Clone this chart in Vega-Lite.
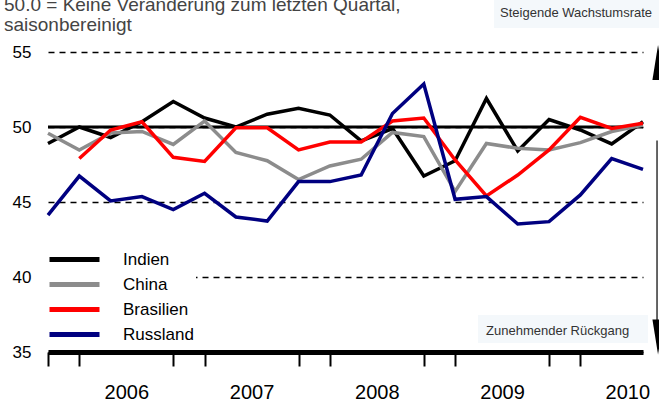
{
  "$schema": "https://vega.github.io/schema/vega-lite/v6.json",
  "width": 595,
  "height": 300,
  "autosize": {"type": "none"},
  "padding": {"left": 48, "top": 52, "right": 16, "bottom": 51},
  "background": "white",
  "title": {
    "text": ["50.0 = Keine Veränderung zum letzten Quartal,", "saisonbereinigt"],
    "anchor": "start",
    "frame": "group",
    "orient": "top",
    "font": "Liberation Sans",
    "fontSize": 19,
    "fontWeight": "normal",
    "color": "#444444",
    "lineHeight": 19.5,
    "offset": 0,
    "dx": -44,
    "dy": 54,
    "baseline": "bottom"
  },
  "config": {"view": {"stroke": null}, "font": "Liberation Sans"},
  "layer": [
    {
      "data": {"values": [{}]},
      "mark": {"type": "rule", "color": "black", "strokeWidth": 3},
      "encoding": {
        "y": {"datum": 50, "type": "quantitative", "scale": {"domain": [35, 55], "nice": false, "zero": false}}
      }
    },
    {
      "data": {
        "values": [
          {"t": 2005.875, "land": "Indien", "v": 48.9},
          {"t": 2006.125, "land": "Indien", "v": 50.0},
          {"t": 2006.375, "land": "Indien", "v": 49.3},
          {"t": 2006.625, "land": "Indien", "v": 50.35},
          {"t": 2006.875, "land": "Indien", "v": 51.7},
          {"t": 2007.125, "land": "Indien", "v": 50.6},
          {"t": 2007.375, "land": "Indien", "v": 50.0},
          {"t": 2007.625, "land": "Indien", "v": 50.85},
          {"t": 2007.875, "land": "Indien", "v": 51.25},
          {"t": 2008.125, "land": "Indien", "v": 50.8},
          {"t": 2008.375, "land": "Indien", "v": 49.07},
          {"t": 2008.625, "land": "Indien", "v": 49.9},
          {"t": 2008.875, "land": "Indien", "v": 46.73},
          {"t": 2009.125, "land": "Indien", "v": 47.75},
          {"t": 2009.375, "land": "Indien", "v": 51.9},
          {"t": 2009.625, "land": "Indien", "v": 48.4},
          {"t": 2009.875, "land": "Indien", "v": 50.5},
          {"t": 2010.125, "land": "Indien", "v": 49.8},
          {"t": 2010.375, "land": "Indien", "v": 48.87},
          {"t": 2010.625, "land": "Indien", "v": 50.35},
          {"t": 2005.875, "land": "China", "v": 49.58},
          {"t": 2006.125, "land": "China", "v": 48.47},
          {"t": 2006.375, "land": "China", "v": 49.6},
          {"t": 2006.625, "land": "China", "v": 49.7},
          {"t": 2006.875, "land": "China", "v": 48.84},
          {"t": 2007.125, "land": "China", "v": 50.4},
          {"t": 2007.375, "land": "China", "v": 48.3},
          {"t": 2007.625, "land": "China", "v": 47.75},
          {"t": 2007.875, "land": "China", "v": 46.5},
          {"t": 2008.125, "land": "China", "v": 47.4},
          {"t": 2008.375, "land": "China", "v": 47.85},
          {"t": 2008.625, "land": "China", "v": 49.64},
          {"t": 2008.875, "land": "China", "v": 49.36},
          {"t": 2009.125, "land": "China", "v": 45.7},
          {"t": 2009.375, "land": "China", "v": 48.9},
          {"t": 2009.625, "land": "China", "v": 48.58},
          {"t": 2009.875, "land": "China", "v": 48.47},
          {"t": 2010.125, "land": "China", "v": 48.96},
          {"t": 2010.375, "land": "China", "v": 49.7},
          {"t": 2010.625, "land": "China", "v": 50.13},
          {"t": 2006.125, "land": "Brasilien", "v": 47.9},
          {"t": 2006.375, "land": "Brasilien", "v": 49.8},
          {"t": 2006.625, "land": "Brasilien", "v": 50.35},
          {"t": 2006.875, "land": "Brasilien", "v": 47.98},
          {"t": 2007.125, "land": "Brasilien", "v": 47.7},
          {"t": 2007.375, "land": "Brasilien", "v": 49.95},
          {"t": 2007.625, "land": "Brasilien", "v": 49.95},
          {"t": 2007.875, "land": "Brasilien", "v": 48.47},
          {"t": 2008.125, "land": "Brasilien", "v": 49.0},
          {"t": 2008.375, "land": "Brasilien", "v": 49.0},
          {"t": 2008.625, "land": "Brasilien", "v": 50.4},
          {"t": 2008.875, "land": "Brasilien", "v": 50.6},
          {"t": 2009.125, "land": "Brasilien", "v": 47.8},
          {"t": 2009.375, "land": "Brasilien", "v": 45.4},
          {"t": 2009.625, "land": "Brasilien", "v": 46.8},
          {"t": 2009.875, "land": "Brasilien", "v": 48.47},
          {"t": 2010.125, "land": "Brasilien", "v": 50.65},
          {"t": 2010.375, "land": "Brasilien", "v": 49.9},
          {"t": 2010.625, "land": "Brasilien", "v": 50.25},
          {"t": 2005.875, "land": "Russland", "v": 44.13},
          {"t": 2006.125, "land": "Russland", "v": 46.73},
          {"t": 2006.375, "land": "Russland", "v": 45.07},
          {"t": 2006.625, "land": "Russland", "v": 45.36},
          {"t": 2006.875, "land": "Russland", "v": 44.5},
          {"t": 2007.125, "land": "Russland", "v": 45.58},
          {"t": 2007.375, "land": "Russland", "v": 44.0},
          {"t": 2007.625, "land": "Russland", "v": 43.73},
          {"t": 2007.875, "land": "Russland", "v": 46.36},
          {"t": 2008.125, "land": "Russland", "v": 46.36},
          {"t": 2008.375, "land": "Russland", "v": 46.8},
          {"t": 2008.625, "land": "Russland", "v": 50.9},
          {"t": 2008.875, "land": "Russland", "v": 52.87},
          {"t": 2009.125, "land": "Russland", "v": 45.18},
          {"t": 2009.375, "land": "Russland", "v": 45.36},
          {"t": 2009.625, "land": "Russland", "v": 43.53},
          {"t": 2009.875, "land": "Russland", "v": 43.69},
          {"t": 2010.125, "land": "Russland", "v": 45.47},
          {"t": 2010.375, "land": "Russland", "v": 47.9},
          {"t": 2010.625, "land": "Russland", "v": 47.18}
        ]
      },
      "mark": {"type": "line", "strokeWidth": 3.5},
      "encoding": {
        "x": {
          "field": "t",
          "type": "quantitative",
          "scale": {"domain": [2005.875, 2010.625], "nice": false, "zero": false},
          "axis": {
            "title": null,
            "grid": false,
            "values": [2005.875, 2006, 2006.125, 2006.375, 2006.5, 2006.625, 2006.875, 2007, 2007.125, 2007.375, 2007.5, 2007.625, 2007.875, 2008, 2008.125, 2008.375, 2008.5, 2008.625, 2008.875, 2009, 2009.125, 2009.375, 2009.5, 2009.625, 2009.875, 2010, 2010.125, 2010.375, 2010.5, 2010.625],
            "domainColor": "black",
            "domainWidth": 5,
            "tickColor": "black",
            "tickWidth": 2,
            "tickSize": {"condition": {"test": "abs(datum.value - round(datum.value)) < 0.01", "value": 31}, "value": 14},
            "tickOpacity": {"condition": {"test": "abs(datum.value - floor(datum.value) - 0.5) < 0.01", "value": 0}, "value": 1},
            "labelExpr": "abs(datum.value - floor(datum.value) - 0.5) < 0.01 ? toString(floor(datum.value)) : ''",
            "labelFont": "Liberation Sans",
            "labelFontSize": 20,
            "labelColor": "black",
            "labelPadding": 16,
            "labelOverlap": false,
            "labelFlush": false,
            "labelBound": false
          }
        },
        "y": {
          "field": "v",
          "type": "quantitative",
          "scale": {"domain": [35, 55], "nice": false, "zero": false},
          "axis": {
            "title": null,
            "values": [35, 40, 45, 50, 55],
            "domain": false,
            "ticks": false,
            "labelPadding": 17,
            "labelFont": "Liberation Sans",
            "labelFontSize": 17,
            "labelColor": "black",
            "grid": true,
            "gridColor": "black",
            "gridDash": [6, 5],
            "gridWidth": 1.5
          }
        },
        "color": {
          "field": "land",
          "type": "nominal",
          "scale": {"domain": ["Indien", "China", "Brasilien", "Russland"], "range": ["#000000", "#8c8c8c", "#ff0000", "#000080"]},
          "legend": {
            "title": null,
            "orient": "none",
            "legendX": -3,
            "legendY": 193,
            "symbolType": "M-1,0H4",
            "symbolSize": 400,
            "symbolStrokeWidth": 5,
            "labelFont": "Liberation Sans",
            "labelFontSize": 17,
            "labelColor": "black",
            "labelOffset": 51,
            "rowPadding": 2,
            "padding": 2,
            "fillColor": "white"
          }
        }
      }
    },
    {
      "data": {"values": [{}]},
      "mark": {"type": "rect", "color": "#f4f8fb"},
      "encoding": {
        "x": {"datum": 2009.436, "type": "quantitative", "scale": {"domain": [2005.875, 2010.625], "nice": false, "zero": false}},
        "x2": {"datum": 2010.76},
        "y": {"datum": 58.5, "type": "quantitative", "scale": {"domain": [35, 55], "nice": false, "zero": false}},
        "y2": {"datum": 56.6}
      }
    },
    {
      "data": {"values": [{}]},
      "mark": {"type": "text", "align": "left", "baseline": "alphabetic", "font": "Liberation Sans", "fontSize": 13, "color": "#333333", "text": "Steigende Wachstumsrate"},
      "encoding": {
        "x": {"datum": 2009.484, "type": "quantitative", "scale": {"domain": [2005.875, 2010.625], "nice": false, "zero": false}},
        "y": {"datum": 57.33, "type": "quantitative", "scale": {"domain": [35, 55], "nice": false, "zero": false}}
      }
    },
    {
      "data": {"values": [{}]},
      "mark": {"type": "rect", "color": "#f4f8fb"},
      "encoding": {
        "x": {"datum": 2009.308, "type": "quantitative", "scale": {"domain": [2005.875, 2010.625], "nice": false, "zero": false}},
        "x2": {"datum": 2010.665},
        "y": {"datum": 37.47, "type": "quantitative", "scale": {"domain": [35, 55], "nice": false, "zero": false}},
        "y2": {"datum": 35.6}
      }
    },
    {
      "data": {"values": [{}]},
      "mark": {"type": "text", "align": "left", "baseline": "alphabetic", "font": "Liberation Sans", "fontSize": 13, "color": "#333333", "text": "Zunehmender Rückgang"},
      "encoding": {
        "x": {"datum": 2009.372, "type": "quantitative", "scale": {"domain": [2005.875, 2010.625], "nice": false, "zero": false}},
        "y": {"datum": 36.13, "type": "quantitative", "scale": {"domain": [35, 55], "nice": false, "zero": false}}
      }
    },
    {
      "data": {"values": [{}]},
      "mark": {"type": "rule", "color": "#333333", "strokeWidth": 1.5},
      "encoding": {
        "x": {"datum": 2010.737, "type": "quantitative", "scale": {"domain": [2005.875, 2010.625], "nice": false, "zero": false}},
        "y": {"datum": 49.1, "type": "quantitative", "scale": {"domain": [35, 55], "nice": false, "zero": false}},
        "y2": {"datum": 36.5}
      }
    },
    {
      "data": {"values": [{}]},
      "mark": {"type": "point", "filled": true, "color": "black", "opacity": 1, "size": 784, "shape": "M0,-1.25L0.4,1.25L-0.4,1.25Z"},
      "encoding": {
        "x": {"datum": 2010.745, "type": "quantitative", "scale": {"domain": [2005.875, 2010.625], "nice": false, "zero": false}},
        "y": {"datum": 54.3, "type": "quantitative", "scale": {"domain": [35, 55], "nice": false, "zero": false}}
      }
    },
    {
      "data": {"values": [{}]},
      "mark": {"type": "point", "filled": true, "color": "black", "opacity": 1, "size": 784, "shape": "M0,1.25L0.4,-1.25L-0.4,-1.25Z"},
      "encoding": {
        "x": {"datum": 2010.745, "type": "quantitative", "scale": {"domain": [2005.875, 2010.625], "nice": false, "zero": false}},
        "y": {"datum": 36.0, "type": "quantitative", "scale": {"domain": [35, 55], "nice": false, "zero": false}}
      }
    }
  ]
}
